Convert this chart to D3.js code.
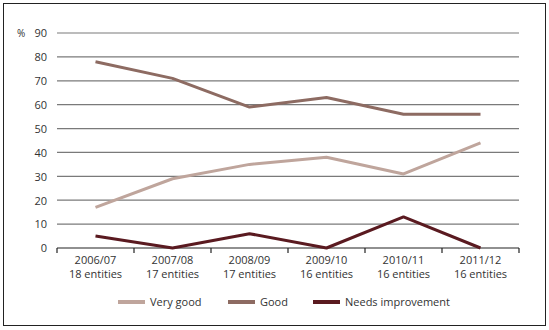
<!DOCTYPE html>
<html lang="en"><head>
<meta charset="utf-8">
<title>Entity ratings</title>
<script src="https://cdnjs.cloudflare.com/ajax/libs/d3/7.8.5/d3.min.js"></script>
<style>
  body { margin: 0; background: #fff; }
  text { font-family: "Open Sans", sans-serif; fill: #333; }
</style>
</head>
<body>
<script>
// chart data
var years = ["2006/07", "2007/08", "2008/09", "2009/10", "2010/11", "2011/12"];
var entities = ["18 entities", "17 entities", "17 entities", "16 entities", "16 entities", "16 entities"];
var veryGood = [17, 29, 35, 38, 31, 44];
var good = [78, 71, 59, 63, 56, 56];
var needsImprovement = [5, 0, 6, 0, 13, 0];
var yTicks = [0, 10, 20, 30, 40, 50, 60, 70, 80, 90];

var series = [
  {name: "Very good", values: veryGood, color: "#bfa59c"},
  {name: "Good", values: good, color: "#8d6b62"},
  {name: "Needs improvement", values: needsImprovement, color: "#5a1a20"}
];

var width = 549, height = 330;
var svg = d3.select("body").append("svg").attr("width", width).attr("height", height);

svg.append("rect")
  .attr("x", 3.5).attr("y", 3.5)
  .attr("width", 542).attr("height", 322)
  .attr("fill", "none").attr("stroke", "#222").attr("stroke-width", 1);

var x = d3.scaleBand().domain(years).range([57, 519]);
var y = d3.scaleLinear().domain([0, 90]).range([248, 33]);

// gridlines
svg.append("g").selectAll("line")
  .data(yTicks.filter(function(d) { return d > 0; }))
  .enter().append("line")
  .attr("x1", 57).attr("x2", 519)
  .attr("y1", function(d) { return y(d); })
  .attr("y2", function(d) { return y(d); })
  .attr("stroke", "#7a7a7a").attr("stroke-width", 1.2);

// y axis labels
var yAxis = svg.append("g").attr("transform", "translate(47,0)")
  .call(d3.axisLeft(y).tickValues(yTicks).tickSize(0).tickPadding(0));
yAxis.select(".domain").remove();
yAxis.selectAll("text").style("font-size", "11px").attr("dy", "0.35em");

svg.append("text").attr("x", 17).attr("y", y(90)).attr("dy", "0.35em")
  .style("font-size", "10px").text("%");

// x axis: baseline with downward ticks
var xAxis = svg.append("g").attr("transform", "translate(0," + y(0) + ")");
xAxis.append("line").attr("x1", 57).attr("x2", 519)
  .attr("stroke", "#222").attr("stroke-width", 1.2);
xAxis.selectAll("line.tick")
  .data(years.concat(["end"]))
  .enter().append("line").attr("class", "tick")
  .attr("x1", function(d, i) { return i < years.length ? x(d) : x.range()[1]; })
  .attr("x2", function(d, i) { return i < years.length ? x(d) : x.range()[1]; })
  .attr("y1", 0).attr("y2", 5)
  .attr("stroke", "#222").attr("stroke-width", 1.2);

var labels = xAxis.selectAll("text.lab").data(years).enter().append("text")
  .attr("class", "lab")
  .attr("text-anchor", "middle")
  .style("font-size", "11px")
  .attr("x", function(d) { return x(d) + x.bandwidth() / 2; });
labels.append("tspan").attr("x", function(d) { return x(d) + x.bandwidth() / 2; })
  .attr("y", 16).text(function(d) { return d; });
labels.append("tspan").attr("x", function(d) { return x(d) + x.bandwidth() / 2; })
  .attr("y", 30).text(function(d, i) { return entities[i]; });

// lines
var line = d3.line()
  .x(function(d, i) { return x(years[i]) + x.bandwidth() / 2; })
  .y(function(d) { return y(d); });

svg.append("g").selectAll("path")
  .data(series)
  .enter().append("path")
  .attr("d", function(s) { return line(s.values); })
  .attr("fill", "none")
  .attr("stroke", function(s) { return s.color; })
  .attr("stroke-width", 3)
  .attr("stroke-linejoin", "round");

// legend
var legendX = [118, 228, 313];
var legend = svg.append("g").selectAll("g")
  .data(series)
  .enter().append("g")
  .attr("transform", function(d, i) { return "translate(" + legendX[i] + ",302)"; });
legend.append("line").attr("x1", 0).attr("x2", 27)
  .attr("stroke", function(d) { return d.color; }).attr("stroke-width", 4);
legend.append("text").attr("x", 32).attr("dy", "0.35em")
  .style("font-size", "11px").text(function(d) { return d.name; });
</script>
</body></html>
